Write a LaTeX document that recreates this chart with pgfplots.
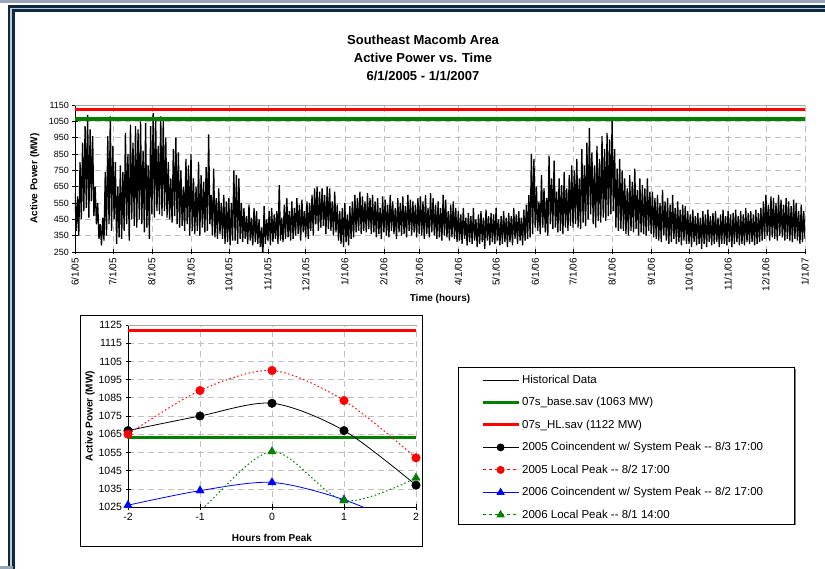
\documentclass[border=0pt]{standalone}
\usepackage{pgfplots}
\pgfplotsset{compat=1.18}
\usepackage{pgfplotstable}
\usepackage{fontspec}
\setmainfont{Liberation Sans}

\definecolor{xlgreen}{RGB}{0,128,0}
\definecolor{framenavy}{RGB}{12,42,66}
\definecolor{framegray}{RGB}{150,166,182}
\definecolor{gridgray}{RGB}{192,192,192}

% load, one value per day (alternating daily high/low), day 0 = 6/1/05
\pgfplotstableread[row sep=\\]{
mw\\
610\\380\\590\\350\\
800\\450\\920\\500\\1020\\520\\1090\\460\\1000\\560\\960\\470\\650\\420\\
550\\330\\420\\290\\460\\320\\740\\350\\
960\\420\\1080\\380\\900\\450\\
800\\300\\650\\340\\780\\330\\
740\\380\\980\\420\\850\\320\\1030\\450\\920\\410\\1020\\400\\
1000\\450\\1050\\420\\870\\370\\1040\\400\\780\\330\\1020\\480\\
1100\\460\\1060\\500\\900\\480\\1080\\470\\
1060\\500\\950\\460\\800\\450\\700\\430\\880\\470\\
950\\420\\860\\400\\750\\410\\650\\380\\820\\420\\
780\\350\\850\\380\\700\\360\\
650\\380\\800\\350\\720\\400\\680\\370\\770\\380\\970\\420\\
600\\350\\760\\340\\580\\330\\640\\360\\550\\330\\
600\\300\\560\\310\\580\\290\\550\\320\\
750\\320\\720\\300\\700\\330\\
550\\310\\520\\330\\470\\300\\540\\320\\460\\290\\520\\310\\500\\300\\450\\280\\400\\220\\
530\\300\\450\\320\\500\\290\\520\\310\\480\\330\\500\\300\\660\\320\\460\\310\\540\\330\\580\\340\\500\\320\\
560\\330\\520\\350\\580\\360\\540\\320\\570\\370\\500\\340\\560\\330\\550\\380\\600\\350\\
640\\420\\650\\380\\620\\400\\640\\410\\600\\360\\650\\390\\640\\380\\560\\350\\620\\370\\
540\\320\\500\\300\\520\\280\\550\\310\\480\\290\\530\\330\\560\\340\\
600\\370\\580\\380\\620\\360\\590\\380\\560\\370\\610\\390\\580\\360\\600\\370\\
560\\340\\580\\360\\520\\330\\590\\370\\570\\350\\540\\340\\600\\380\\560\\360\\520\\330\\
580\\370\\550\\350\\590\\360\\530\\340\\600\\380\\570\\350\\560\\370\\540\\340\\580\\360\\
590\\350\\560\\330\\600\\360\\520\\340\\610\\370\\580\\350\\540\\330\\560\\340\\
520\\320\\600\\350\\570\\340\\500\\320\\540\\340\\560\\330\\520\\310\\
500\\320\\480\\300\\520\\330\\460\\290\\490\\310\\470\\300\\520\\320\\450\\280\\480\\300\\500\\310\\
460\\270\\510\\320\\470\\290\\490\\310\\480\\300\\520\\320\\450\\290\\470\\300\\500\\310\\460\\280\\
490\\310\\470\\290\\520\\330\\480\\300\\500\\320\\460\\290\\510\\320\\540\\330\\600\\340\\
850\\360\\820\\400\\
650\\380\\560\\360\\720\\400\\640\\370\\580\\350\\840\\420\\700\\390\\810\\400\\
620\\370\\700\\380\\660\\360\\740\\400\\640\\380\\720\\410\\780\\400\\
750\\420\\820\\400\\700\\390\\880\\430\\780\\410\\920\\450\\1010\\480\\860\\420\\
780\\400\\900\\440\\820\\430\\960\\460\\880\\440\\980\\470\\940\\480\\1060\\500\\
880\\400\\760\\380\\820\\390\\
750\\380\\700\\360\\640\\350\\720\\380\\680\\370\\760\\390\\630\\350\\700\\370\\660\\360\\640\\350\\700\\380\\620\\360\\
620\\340\\580\\330\\600\\320\\550\\310\\630\\350\\560\\320\\580\\300\\540\\310\\600\\330\\520\\300\\560\\310\\510\\290\\540\\320\\530\\300\\
500\\300\\480\\280\\510\\310\\470\\290\\490\\300\\460\\270\\500\\300\\480\\280\\510\\310\\470\\290\\
490\\300\\500\\310\\460\\280\\480\\300\\510\\300\\470\\290\\500\\310\\480\\280\\490\\300\\510\\310\\
470\\290\\500\\300\\480\\290\\520\\310\\490\\300\\500\\310\\480\\290\\510\\300\\490\\310\\520\\320\\
560\\330\\600\\350\\540\\320\\590\\340\\580\\330\\550\\320\\600\\350\\570\\340\\540\\320\\
580\\330\\560\\320\\530\\310\\570\\330\\550\\320\\500\\300\\540\\310\\500\\330\\
}\loaddata

\begin{document}
\begin{tikzpicture}
\useasboundingbox (0pt,0pt) rectangle (825pt,-569pt);
\fill[white] (0pt,0pt) rectangle (825pt,-569pt);
% window frame
\fill[framegray] (0pt,0pt) rectangle (825pt,-3pt);
\fill[framenavy] (8pt,-5pt) rectangle (825pt,-12pt);
\fill[framenavy] (8pt,-5pt) rectangle (15pt,-569pt);
\draw[framegray!60, line width=1.5pt] (11pt,-569pt) -- (11pt,-8.5pt) -- (825pt,-8.5pt);
\fill[framegray] (0pt,-566pt) rectangle (13pt,-569pt);

\node[font=\fontsize{13}{18}\selectfont\bfseries, align=center] at (423pt,-58pt)
  {Southeast Macomb Area\\Active Power vs. Time\\6/1/2005 - 1/1/2007};

\begin{axis}[
    at={(75pt,-252pt)}, anchor=south west,
    scale only axis, width=730pt, height=147pt,
    xmin=0, xmax=579, ymin=250, ymax=1150,
    axis lines*=left,
    axis line style={black, line width=0.8pt},
    tick align=center, major tick length=5pt,
    tick style={black, line width=0.6pt},
    ytick={250,350,...,1150},
    xtick={0,30,61,92,122,153,183,214,245,273,304,334,365,395,426,457,487,518,548,579},
    xticklabels={6/1/05,7/1/05,8/1/05,9/1/05,10/1/05,11/1/05,12/1/05,1/1/06,2/1/06,3/1/06,4/1/06,5/1/06,6/1/06,7/1/06,8/1/06,9/1/06,10/1/06,11/1/06,12/1/06,1/1/07},
    xticklabel style={font=\fontsize{10}{11}\selectfont, rotate=90, anchor=east},
    yticklabel style={font=\fontsize{9}{10}\selectfont},
    /pgf/number format/1000 sep={},
    /pgf/number format/assume math mode=true,
    grid=major,
    grid style={gridgray, dash pattern=on 6pt off 4pt, line width=0.6pt},
    xlabel={Time (hours)},
    xlabel style={at={(rel axis cs:0.5,-0.32)}, anchor=center, font=\bfseries\fontsize{10}{12}\selectfont},
    ylabel={Active Power (MW)},
    ylabel style={at={(rel axis cs:-0.055,0.5)}, anchor=center, font=\bfseries\fontsize{10}{12}\selectfont},
  ]
  \addplot[black, line width=1.3pt, line join=bevel] table[x expr=\coordindex, y=mw] {\loaddata};
  \addplot[xlgreen, line width=3.5pt] coordinates {(0,1063) (579,1063)};
  \addplot[red, line width=3.5pt] coordinates {(0,1122) (579,1122)};
  \draw[gray!70] (rel axis cs:0,1) -- (rel axis cs:1,1) -- (rel axis cs:1,0);
\end{axis}

\draw[black, line width=0.8pt] (80pt,-315pt) rectangle (422pt,-546pt);
\draw[black, line width=0.8pt] (458pt,-367pt) rectangle (794pt,-524pt);
\draw[gray, line width=1pt] (795.5pt,-369pt) -- (795.5pt,-525pt);

\begin{axis}[
    at={(128pt,-507pt)}, anchor=south west,
    scale only axis, width=288pt, height=182pt,
    xmin=-2, xmax=2, ymin=1025, ymax=1125,
    axis lines*=left,
    axis line style={black, line width=0.8pt},
    tick align=center, major tick length=5pt,
    tick style={black, line width=0.6pt},
    xtick={-2,-1,0,1,2},
    ytick={1025,1035,...,1125},
    ticklabel style={font=\fontsize{10.5}{11}\selectfont},
    /pgf/number format/1000 sep={},
    /pgf/number format/assume math mode=true,
    grid=major,
    grid style={gridgray, dash pattern=on 6pt off 4pt, line width=0.6pt},
    xlabel={Hours from Peak},
    xlabel style={at={(rel axis cs:0.5,-0.17)}, anchor=center, font=\bfseries\fontsize{10}{12}\selectfont},
    ylabel={Active Power (MW)},
    ylabel style={at={(rel axis cs:-0.132,0.5)}, anchor=center, font=\bfseries\fontsize{10}{12}\selectfont},
    legend image code/.code={\draw[mark repeat=2,mark phase=2,#1] plot coordinates {(0pt,0pt) (18pt,0pt) (36pt,0pt)};},
    legend style={at={(1.215,0.749)}, anchor=north west, draw=none, fill=none,
      font=\fontsize{11.5}{13}\selectfont, row sep=8.7pt},
    legend cell align=left,
  ]
  \addplot[xlgreen, line width=3pt, forget plot] coordinates {(-2,1063) (2,1063)};
  \addplot[red, line width=3pt, forget plot] coordinates {(-2,1122) (2,1122)};
  % 2005 coincident with system peak
  \addplot[black, line width=0.8pt, smooth, forget plot] coordinates {(-2,1067) (-1,1075) (0,1082) (1,1067) (2,1037)};
  \addplot[only marks, mark=*, mark size=4.3pt, black, forget plot] coordinates {(-2,1067) (-1,1075) (0,1082) (1,1067) (2,1037)};
  % 2005 local peak
  \addplot[red, line width=1pt, dash pattern=on 1.5pt off 2.5pt, smooth, forget plot] coordinates {(-2,1065) (-1,1089) (0,1100) (1,1083.5) (2,1052)};
  \addplot[only marks, mark=*, mark size=4.3pt, red, forget plot] coordinates {(-2,1065) (-1,1089) (0,1100) (1,1083.5) (2,1052)};
  % 2006 coincident with system peak
  \addplot[blue, line width=0.8pt, smooth, forget plot] coordinates {(-2,1026) (-1,1034) (0,1038.5) (1,1029) (2,1012)};
  \addplot[only marks, mark=triangle*, mark size=4.8pt, blue, forget plot] coordinates {(-2,1026) (-1,1034) (0,1038.5) (1,1029)};
  % 2006 local peak
  \addplot[xlgreen, line width=1pt, dash pattern=on 1.5pt off 2.5pt, smooth, forget plot] coordinates {(-2,990) (-1,1023) (0,1055.5) (1,1028.5) (2,1041)};
  \addplot[only marks, mark=triangle*, mark size=4.8pt, xlgreen, forget plot] coordinates {(0,1055.5) (1,1028.5) (2,1041)};
  \draw[gray!70] (rel axis cs:0,1) -- (rel axis cs:1,1) -- (rel axis cs:1,0);

  \addlegendimage{black, line width=0.6pt}
  \addlegendentry{Historical Data}
  \addlegendimage{xlgreen, line width=3pt}
  \addlegendentry{07s\_base.sav (1063 MW)}
  \addlegendimage{red, line width=3pt}
  \addlegendentry{07s\_HL.sav (1122 MW)}
  \addlegendimage{black, line width=0.8pt, mark=*, mark size=3.5pt}
  \addlegendentry{2005 Coincendent w/ System Peak -{}- 8/3 17:00}
  \addlegendimage{red, line width=1pt, dash pattern=on 3pt off 3pt, mark=*, mark size=3.5pt, mark options={solid}}
  \addlegendentry{2005 Local Peak -{}- 8/2 17:00}
  \addlegendimage{blue, line width=0.8pt, mark=triangle*, mark size=4pt}
  \addlegendentry{2006 Coincendent w/ System Peak -{}- 8/2 17:00}
  \addlegendimage{xlgreen, line width=1pt, dash pattern=on 3pt off 3pt, mark=triangle*, mark size=4pt, mark options={solid}}
  \addlegendentry{2006 Local Peak -{}- 8/1 14:00}
\end{axis}
\end{tikzpicture}
\end{document}
